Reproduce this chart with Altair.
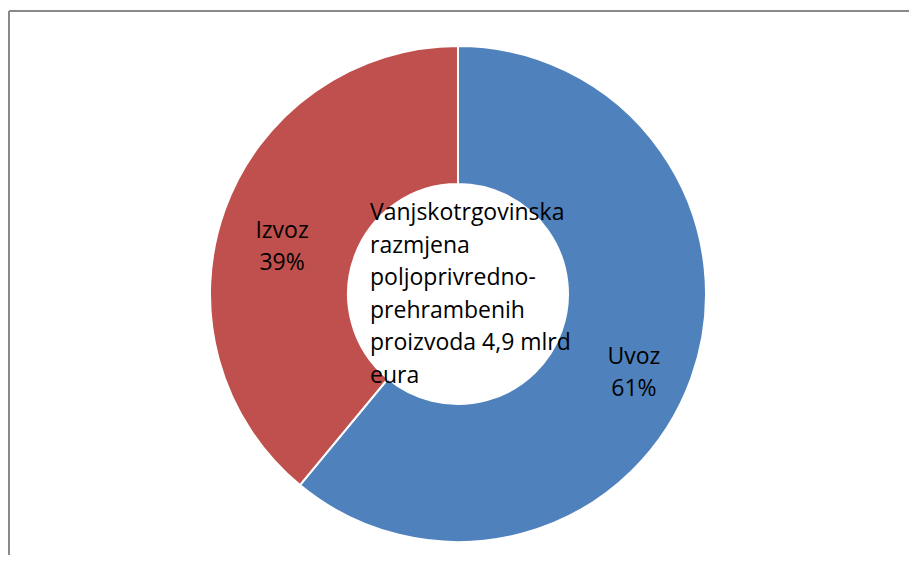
import altair as alt
import pandas as pd

categories = ["Uvoz", "Izvoz"]
shares = [61, 39]
colors = ["#4F81BD", "#C0504D"]
center_lines = ["Vanjskotrgovinska", "razmjena", "poljoprivredno-", "prehrambenih",
                "proizvoda 4,9 mlrd", "eura"]

df = pd.DataFrame({"kategorija": categories, "udio": shares, "red": list(range(len(categories)))})
df["oznaka"] = df["kategorija"] + "\n" + df["udio"].astype(str) + "%"

W, H = 900, 544
CX, CY = 449, 283
FONT = "Open Sans"
FS = 23

base = alt.Chart(df).encode(
    theta=alt.Theta("udio:Q", stack=True),
    order=alt.Order("red:Q"),
    x=alt.value(CX),
    y=alt.value(CY),
)

arcs = base.mark_arc(outerRadius=248, innerRadius=110, stroke="white", strokeWidth=2).encode(
    color=alt.Color("kategorija:N", scale=alt.Scale(domain=categories, range=colors), legend=None)
)

labels = base.mark_text(radius=187, font=FONT, fontSize=FS, lineBreak="\n",
                        lineHeight=32, color="black").encode(text="oznaka:N")

center_df = pd.DataFrame({"t": ["\n".join(center_lines)]})
center = alt.Chart(center_df).mark_text(
    align="left", baseline="alphabetic", font=FONT, fontSize=FS, lineBreak="\n",
    lineHeight=32.6, color="black"
).encode(text="t:N", x=alt.value(CX - 88), y=alt.value(CY - 74))

one = pd.DataFrame({"a": [0]})
top_rule = alt.Chart(one).mark_rule(color="#898989", strokeWidth=2).encode(
    y=alt.value(0), x=alt.value(0), x2=alt.value(W))
left_rule = alt.Chart(one).mark_rule(color="#898989", strokeWidth=2).encode(
    x=alt.value(0), y=alt.value(0), y2=alt.value(H))

chart = alt.layer(top_rule, left_rule, arcs, labels, center).properties(
    width=W, height=H, autosize="none",
    padding={"left": 1, "top": 3, "right": 0, "bottom": 0},
).configure_view(stroke=None)

chart.save("out.html", embed_options={"renderer": "svg", "actions": False})
